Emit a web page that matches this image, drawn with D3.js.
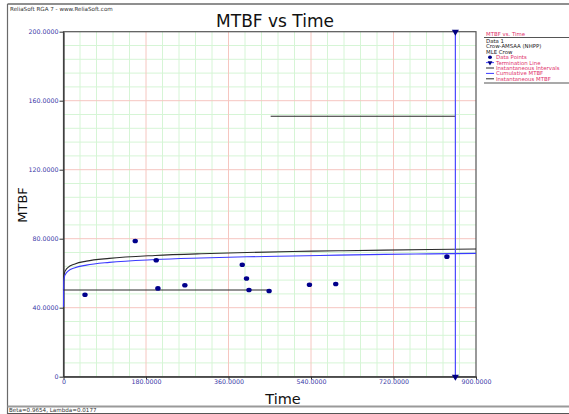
<!DOCTYPE html>
<html>
<head>
<meta charset="utf-8">
<script src="https://cdn.jsdelivr.net/npm/d3@7"></script>
<style>
  body { margin: 0; background: #fff; }
  svg { display: block; font-family: "DejaVu Sans", Verdana, sans-serif; }
</style>
</head>
<body>
<svg id="chart" width="569" height="414"></svg>
<script>
// data
var pointTimes = [46.9, 156.5, 202.3, 206, 264.8, 390, 399.3, 404.7, 448.6, 536.6, 594, 836.5];
var pointMTBF  = [47.5, 78.7, 67.5, 51.2, 53.0, 64.9, 56.9, 50.3, 49.7, 53.3, 53.7, 69.6];

var curveTimes      = [0, 0.5, 2, 5, 10, 25, 50, 100, 200, 300, 400, 500, 600, 700, 800, 900];
var cumulativeMTBF  = [40.5, 55.2, 57.9, 59.7, 61.2, 63.2, 64.7, 66.3, 67.9, 68.8, 69.5, 70.0, 70.5, 70.9, 71.2, 71.5];
var instantMTBF     = [50.0, 57.2, 60.0, 61.9, 63.4, 65.4, 67.0, 68.6, 70.3, 71.3, 72.0, 72.6, 73.0, 73.4, 73.75, 74.05];

var intervalStart = [0, 452];
var intervalEnd   = [448, 855];
var intervalMTBF  = [50.3, 151];

var terminationTime = 855;

var xTicks = [0, 180, 360, 540, 720, 900];
var yTicks = [0, 40, 80, 120, 160, 200];

var legendHead  = ['Data 1', 'Crow-AMSAA (NHPP)', 'MLE Crow'];
var legendItems = ['Data Points', 'Termination Line', 'Instantaneous Intervals', 'Cumulative MTBF', 'Instantaneous MTBF'];

var svg = d3.select('#chart');
var width = 569, height = 414;
var plot = { left: 63.5, right: 476, top: 31.7, bottom: 376.7 };

var x = d3.scaleLinear().domain([0, 900]).range([plot.left, plot.right]);
var y = d3.scaleLinear().domain([0, 200]).range([plot.bottom, plot.top]);

// outer window frame + status bar
svg.append('line').attr('x1', 7.5).attr('x2', 7.5).attr('y1', 4).attr('y2', 414)
    .attr('stroke', '#6a6a6a').attr('stroke-width', 1.2);
svg.append('line').attr('x1', 7.5).attr('x2', width).attr('y1', 4).attr('y2', 4)
    .attr('stroke', '#6a6a6a').attr('stroke-width', 1.5);
svg.append('line').attr('x1', 7.5).attr('x2', width).attr('y1', 406.5).attr('y2', 406.5)
    .attr('stroke', '#9a9a9a').attr('stroke-width', 2);
svg.append('line').attr('x1', 7.5).attr('x2', width).attr('y1', 413.5).attr('y2', 413.5)
    .attr('stroke', '#555').attr('stroke-width', 1);

svg.append('text').attr('x', 10).attr('y', 10.5)
    .attr('font-size', 5.6).attr('fill', '#333')
    .text('ReliaSoft RGA 7 - www.ReliaSoft.com');
svg.append('text').attr('x', 9).attr('y', 412)
    .attr('font-size', 5.6).attr('fill', '#333')
    .text('Beta=0.9654, Lambda=0.0177');

// title
svg.append('text').attr('x', 275).attr('y', 26.5).attr('text-anchor', 'middle')
    .attr('font-size', 17).attr('fill', '#111').text('MTBF vs Time');

// grid
var gridG = svg.append('g');
var xMinor = d3.range(36, 900, 36).filter(v => v % 180 != 0);
var yMinor = d3.range(8, 200, 8).filter(v => v % 40 != 0);

gridG.selectAll('.xminor').data(xMinor).join('line')
    .attr('x1', d => x(d)).attr('x2', d => x(d))
    .attr('y1', plot.top).attr('y2', plot.bottom)
    .attr('stroke', '#d6f5d6').attr('stroke-width', 1);
gridG.selectAll('.yminor').data(yMinor).join('line')
    .attr('x1', plot.left).attr('x2', plot.right)
    .attr('y1', d => y(d)).attr('y2', d => y(d))
    .attr('stroke', '#d6f5d6').attr('stroke-width', 1);
gridG.selectAll('.xmajor').data(xTicks.slice(1, -1)).join('line')
    .attr('x1', d => x(d)).attr('x2', d => x(d))
    .attr('y1', plot.top).attr('y2', plot.bottom)
    .attr('stroke', '#f6c6c0').attr('stroke-width', 1);
gridG.selectAll('.ymajor').data(yTicks.slice(1, -1)).join('line')
    .attr('x1', plot.left).attr('x2', plot.right)
    .attr('y1', d => y(d)).attr('y2', d => y(d))
    .attr('stroke', '#f6c6c0').attr('stroke-width', 1);

// plot frame
svg.append('rect')
    .attr('x', plot.left).attr('y', plot.top)
    .attr('width', plot.right - plot.left).attr('height', plot.bottom - plot.top)
    .attr('fill', 'none').attr('stroke', '#555').attr('stroke-width', 1.2);

var tickFmt = d => d == 0 ? '0' : d3.format('.4f')(d);

var xAxis = svg.append('g')
    .attr('transform', `translate(0,${plot.bottom})`)
    .call(d3.axisBottom(x).tickValues(xTicks).tickSize(3).tickSizeOuter(0).tickFormat(tickFmt));
var yAxis = svg.append('g')
    .attr('transform', `translate(${plot.left},0)`)
    .call(d3.axisLeft(y).tickValues(yTicks).tickSize(4).tickSizeOuter(0).tickFormat(tickFmt));

[xAxis, yAxis].forEach(a => {
    a.select('.domain').attr('stroke', '#333').attr('stroke-width', 1.2);
    a.selectAll('.tick line').attr('stroke', '#333');
    a.selectAll('.tick text').attr('fill', '#3a3aa8').attr('font-size', 6.3)
        .attr('font-family', '"DejaVu Sans", Verdana, sans-serif');
});
xAxis.selectAll('.tick text').attr('dy', '0.6em').attr('y', 4);
yAxis.selectAll('.tick text').attr('x', -5);

// axis titles
svg.append('text').attr('x', 283).attr('y', 404).attr('text-anchor', 'middle')
    .attr('font-size', 14.5).attr('fill', '#111').text('Time');
svg.append('text').attr('transform', 'translate(27,205) rotate(-90)').attr('text-anchor', 'middle')
    .attr('font-size', 13).attr('fill', '#111').text('MTBF');

// curves
var line = d3.line()
    .x(d => x(d[0]))
    .y(d => y(d[1]))
    .curve(d3.curveMonotoneX);

var seriesG = svg.append('g');
seriesG.append('path')
    .datum(curveTimes.map((t, i) => [t, instantMTBF[i]]))
    .attr('d', line).attr('fill', 'none').attr('stroke', '#2a2a2a').attr('stroke-width', 1.1);
seriesG.append('path')
    .datum(curveTimes.map((t, i) => [t, cumulativeMTBF[i]]))
    .attr('d', line).attr('fill', 'none').attr('stroke', '#3a3aff').attr('stroke-width', 1.1);

// instantaneous intervals
seriesG.selectAll('.interval')
    .data(intervalMTBF.map((m, i) => ({ s: intervalStart[i], e: intervalEnd[i], m: m })))
    .join('line')
    .attr('x1', d => x(d.s)).attr('x2', d => x(d.e))
    .attr('y1', d => y(d.m)).attr('y2', d => y(d.m))
    .attr('stroke', '#2a2a2a').attr('stroke-width', 1.1);

// termination line
seriesG.append('line')
    .attr('x1', x(terminationTime)).attr('x2', x(terminationTime))
    .attr('y1', plot.top).attr('y2', plot.bottom)
    .attr('stroke', '#4848ff').attr('stroke-width', 1.2);
var tri = d3.symbol().type(d3.symbolTriangle).size(22);
[plot.top, plot.bottom].forEach(py => {
    seriesG.append('path')
        .attr('d', tri())
        .attr('transform', `translate(${x(terminationTime)},${py}) rotate(180)`)
        .attr('fill', '#000080');
});

// data points
seriesG.selectAll('.pt')
    .data(pointTimes.map((t, i) => [t, pointMTBF[i]]))
    .join('ellipse')
    .attr('cx', d => x(d[0])).attr('cy', d => y(d[1]))
    .attr('rx', 2.7).attr('ry', 2.3)
    .attr('fill', '#00008b');

// legend
var lg = svg.append('g');
var lgX = 486;
var rowY = i => 41 + i * 5.4;   // centre of each legend row
lg.append('text').attr('x', lgX).attr('y', 35.5).attr('font-size', 5.4).attr('fill', '#e0306a').text('MTBF vs. Time');
lg.append('line').attr('x1', 484).attr('x2', width).attr('y1', 37.5).attr('y2', 37.5)
    .attr('stroke', '#555').attr('stroke-width', 1.2);
lg.selectAll('.lhead').data(legendHead).join('text')
    .attr('x', lgX).attr('y', (d, i) => rowY(i) + 2)
    .attr('font-size', 5.4).attr('fill', '#222').text(d => d);
var itemY = i => rowY(i + 3);
lg.selectAll('.litem').data(legendItems).join('text')
    .attr('x', lgX + 10).attr('y', (d, i) => itemY(i) + 2)
    .attr('font-size', 5.4).attr('fill', '#e0306a').text(d => d);
// symbols
lg.append('ellipse').attr('cx', lgX + 4).attr('cy', itemY(0)).attr('rx', 2).attr('ry', 1.7).attr('fill', '#00008b');
lg.append('line').attr('x1', lgX).attr('x2', lgX + 8).attr('y1', itemY(1)).attr('y2', itemY(1)).attr('stroke', '#4848ff');
lg.append('path').attr('d', d3.symbol().type(d3.symbolTriangle).size(10)())
    .attr('transform', `translate(${lgX + 4},${itemY(1)}) rotate(180)`).attr('fill', '#000080');
lg.append('line').attr('x1', lgX).attr('x2', lgX + 8).attr('y1', itemY(2)).attr('y2', itemY(2)).attr('stroke', '#2a2a2a');
lg.append('line').attr('x1', lgX).attr('x2', lgX + 8).attr('y1', itemY(3)).attr('y2', itemY(3)).attr('stroke', '#3a3aff');
lg.append('line').attr('x1', lgX).attr('x2', lgX + 8).attr('y1', itemY(4)).attr('y2', itemY(4)).attr('stroke', '#2a2a2a');
lg.append('line').attr('x1', 484).attr('x2', width).attr('y1', 83).attr('y2', 83)
    .attr('stroke', '#555').attr('stroke-width', 1.2);
</script>
</body>
</html>
